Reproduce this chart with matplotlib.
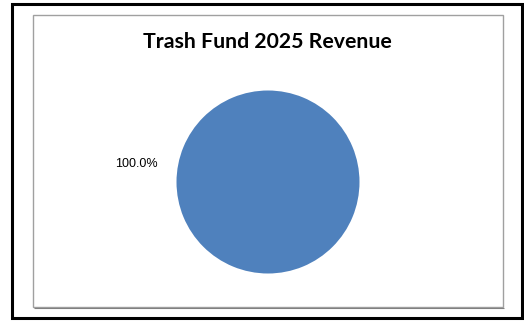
import matplotlib
matplotlib.use("Agg")
import matplotlib.pyplot as plt
from matplotlib.patches import Rectangle

# revenue breakdown for the trash fund
categories = ["Revenue"]
values = [100.0]

fig = plt.figure(figsize=(5.24, 3.24), dpi=100)
W, H = 524, 324


def px_rect(x0, y0, x1, y1, **kw):
    # rectangle in pixel coords (y from top)
    return Rectangle((x0 / W, 1 - y1 / H), (x1 - x0) / W, (y1 - y0) / H,
                     transform=fig.transFigure, fill=False, **kw)


# outer black frame and inner gray chart-area frame
fig.patches.append(px_rect(12, 3.5, 521.5, 318, edgecolor="black", linewidth=2.2))
fig.patches.append(px_rect(32.5, 15, 503, 307, edgecolor="#a0a0a0", linewidth=1.0))
fig.patches.append(px_rect(33.5, 307.5, 503.5, 307.6, edgecolor="#808080", linewidth=0.8))

fig.text(267 / W, 1 - 48.5 / H, "Trash Fund 2025 Revenue", ha="center", va="baseline",
         fontsize=15.3, fontweight="bold", family="Lato")

cx, cy, r = 268, 182, 91.5
ax = fig.add_axes([(cx - r) / W, 1 - (cy + r) / H, 2 * r / W, 2 * r / H])
ax.pie(values, colors=["#4f81bd"], startangle=-8, autopct="%.1f%%",
       pctdistance=1.45, radius=1,
       textprops=dict(fontsize=9, family="Liberation Sans", color="black"))
ax.set_xlim(-1, 1)
ax.set_ylim(-1, 1)
ax.axis("off")

fig.savefig("out.png", dpi=100)
